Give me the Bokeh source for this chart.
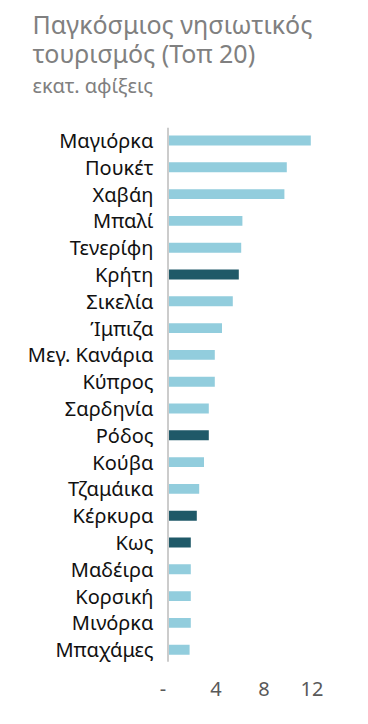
from bokeh.plotting import figure
from bokeh.models import Range1d, ColumnDataSource
from bokeh.core.properties import value
from bokeh.embed import file_html
from bokeh.resources import INLINE

islands = ["Μαγιόρκα", "Πουκέτ", "Χαβάη", "Μπαλί", "Τενερίφη", "Κρήτη", "Σικελία",
           "Ίμπιζα", "Μεγ. Κανάρια", "Κύπρος", "Σαρδηνία", "Ρόδος", "Κούβα",
           "Τζαμάικα", "Κέρκυρα", "Κως", "Μαδέιρα", "Κορσική", "Μινόρκα", "Μπαχάμες"]
arrivals = [11.9, 9.9, 9.7, 6.2, 6.1, 5.9, 5.4, 4.5, 3.9, 3.9, 3.4, 3.4, 3.0,
            2.6, 2.4, 1.9, 1.9, 1.9, 1.9, 1.8]
greek = ["Κρήτη", "Ρόδος", "Κέρκυρα", "Κως"]
x_ticks = [0, 4, 8, 12]
x_tick_labels = ["-", "4", "8", "12"]
title_lines = ["Παγκόσμιος νησιωτικός", "τουρισμός (Τοπ 20)"]
subtitle = "εκατ. αφίξεις"

LIGHT = "#92cddd"
DARK = "#1f5968"
GREY = "#808080"
FONT = "Noto Sans"

W, H = 368, 724
# layout in pixels
ZERO_X = 167.5      # canvas x of value 0
PX_PER_UNIT = 12.0  # pixels per million
ROW0_Y = 140.0      # canvas y of first row centre
ROW_PX = 26.8       # row pitch

def xd(px):
    return (px - ZERO_X) / PX_PER_UNIT

def yd(py):
    return (py - ROW0_Y) / ROW_PX

n = len(islands)
rows = list(range(n))
colors = [DARK if c in greek else LIGHT for c in islands]
src = ColumnDataSource(dict(row=rows, name=islands, val=arrivals, c=colors))

p = figure(width=W, height=H, output_backend="svg", toolbar_location=None,
           x_range=Range1d(xd(0), xd(W)), y_range=Range1d(yd(H), yd(0)),
           x_axis_location=None, y_axis_location=None, title=None,
           min_border=0, min_border_left=0, min_border_right=0,
           min_border_top=0, min_border_bottom=0)
p.outline_line_color = None
p.xgrid.visible = False
p.ygrid.visible = False

# bars
p.hbar(y="row", right="val", left=0, height=0.37, fill_color="c", line_color=None, source=src)

# vertical axis line at zero
p.segment(x0=[0], y0=[-0.48], x1=[0], y1=[n - 0.55], line_color="#cccccc", line_width=2)

# category labels
p.text(x=xd(153), y="row", text="name", source=src, text_align="right",
       text_baseline="middle", text_font=value(FONT), text_font_size=value("20px"),
       text_color="#111111")

# x tick labels
tick_src = ColumnDataSource(dict(x=x_ticks, t=x_tick_labels,
                                 dx=[-5 if t == 0 else 0 for t in x_ticks]))
p.text(x="x", y=yd(688), text="t", x_offset="dx", source=tick_src, text_align="center",
       text_baseline="middle", text_font=value(FONT), text_font_size=value("20px"),
       text_color="#595959")

# title and subtitle
p.text(x=[xd(32)] * 2, y=[yd(23.5), yd(52.5)], text=title_lines, text_align="left",
       text_baseline="middle", text_font=value(FONT), text_font_size=value("25px"),
       text_color=GREY)
p.text(x=[xd(32)], y=[yd(85)], text=[subtitle], text_align="left",
       text_baseline="middle", text_font=value(FONT), text_font_size=value("20px"),
       text_color=GREY)

open("out.html", "w").write(file_html(p, INLINE))
